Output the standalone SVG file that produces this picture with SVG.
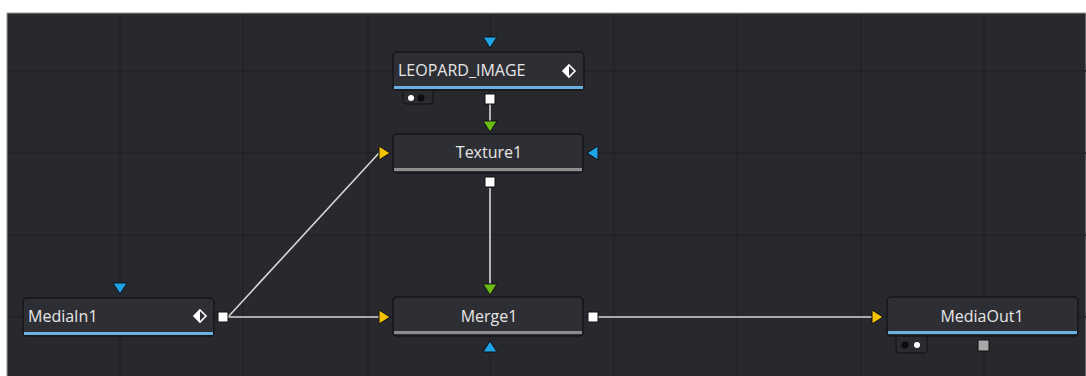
<svg xmlns="http://www.w3.org/2000/svg" width="1086" height="376" viewBox="0 0 1086 376">
<defs>
<style>
.node{fill:#2e2f35;stroke:#15161a;stroke-width:1.5}
.lbl{font-family:"Open Sans","Liberation Sans",sans-serif;font-size:16px;fill:#e6e6e6}
.grid{stroke:#222328;stroke-width:1.5}
.wire{stroke:#d8d8d8;stroke-width:1.6;fill:none}
.out{fill:#ffffff;stroke:#111;stroke-width:1}
.blue{fill:#1fa4e6;stroke:#101014;stroke-width:1}
.yel{fill:#f2c200;stroke:#101014;stroke-width:1}
.grn{fill:#6cbc12;stroke:#101014;stroke-width:1}
.bbar{fill:#6ab0e0}
.gbar{fill:#8e8e8e}
.tab{fill:#2a2b30;stroke:#111;stroke-width:1}
</style>
<g id="diamond">
<polygon points="0,-6 6,0 0,6 -6,0" fill="none" stroke="#fff" stroke-width="1.6"/>
<polygon points="0,-6 0,6 -6,0" fill="#fff"/>
</g>
</defs>
<rect x="0" y="0" width="1086" height="376" fill="#ffffff"/>
<rect x="7" y="13" width="1079" height="364" fill="#28292e" stroke="#9a9a9a" stroke-width="1"/>
<g id="grid">
<line class="grid" x1="120" y1="14" x2="120" y2="376"/>
<line class="grid" x1="243" y1="14" x2="243" y2="376"/>
<line class="grid" x1="368" y1="14" x2="368" y2="376"/>
<line class="grid" x1="490" y1="14" x2="490" y2="376"/>
<line class="grid" x1="614" y1="14" x2="614" y2="376"/>
<line class="grid" x1="737" y1="14" x2="737" y2="376"/>
<line class="grid" x1="861" y1="14" x2="861" y2="376"/>
<line class="grid" x1="984" y1="14" x2="984" y2="376"/>
<line class="grid" x1="8" y1="71" x2="1086" y2="71"/>
<line class="grid" x1="8" y1="153" x2="1086" y2="153"/>
<line class="grid" x1="8" y1="235" x2="1086" y2="235"/>
<line class="grid" x1="8" y1="317" x2="1086" y2="317"/>
</g>
<g id="connectors">
<line class="wire" x1="490" y1="104" x2="490" y2="121"/>
<line class="wire" x1="228" y1="317" x2="379" y2="153"/>
<line class="wire" x1="228" y1="317" x2="379" y2="317"/>
<line class="wire" x1="490" y1="188" x2="490" y2="284"/>
<line class="wire" x1="598" y1="317" x2="872" y2="317"/>
</g>
<g id="LEOPARD_IMAGE">
<rect class="tab" x="403" y="86" width="30" height="18" rx="3"/>
<circle cx="411" cy="98" r="3" fill="#fff"/>
<circle cx="421" cy="98" r="3.5" fill="#0c0c0e"/>
<rect class="node" x="393" y="52" width="191" height="38" rx="4"/>
<rect class="bbar" x="394" y="86" width="189" height="3"/>
<text class="lbl" x="398" y="76">LEOPARD_IMAGE</text>
<use href="#diamond" x="569" y="71"/>
<polygon class="blue" points="483,37 497,37 490,48"/>
<rect class="out" x="485" y="94" width="10" height="10"/>
</g>
<g id="Texture1">
<rect class="node" x="393" y="134" width="190" height="39" rx="4"/>
<rect class="gbar" x="394" y="168" width="188" height="3"/>
<text class="lbl" x="489" y="158" text-anchor="middle">Texture1</text>
<polygon class="grn" points="483,121 497,121 490,132"/>
<polygon class="yel" points="379,146 379,160 390,153"/>
<polygon class="blue" points="598,146 598,160 587,153"/>
<rect class="out" x="485" y="177" width="10" height="10"/>
</g>
<g id="MediaIn1">
<rect class="node" x="23" y="298" width="191" height="38" rx="4"/>
<rect class="bbar" x="24" y="332" width="189" height="3"/>
<text class="lbl" x="28" y="322">MediaIn1</text>
<use href="#diamond" x="200" y="316"/>
<polygon class="blue" points="113,283 127,283 120,294"/>
<rect class="out" x="218" y="312" width="10" height="10"/>
</g>
<g id="Merge1">
<rect class="node" x="393" y="297" width="190" height="39" rx="4"/>
<rect class="gbar" x="394" y="331" width="188" height="3"/>
<text class="lbl" x="489" y="322" text-anchor="middle">Merge1</text>
<polygon class="grn" points="483,284 497,284 490,295"/>
<polygon class="yel" points="379,310 379,324 390,317"/>
<polygon class="blue" points="483,352 497,352 490,341"/>
<rect class="out" x="588" y="312" width="10" height="10"/>
</g>
<g id="MediaOut1">
<rect class="tab" x="896" y="332" width="31" height="21" rx="3"/>
<circle cx="905" cy="345" r="3.5" fill="#0c0c0e"/>
<circle cx="917" cy="345" r="3" fill="#fff"/>
<rect class="node" x="887" y="297" width="191" height="39" rx="4"/>
<rect class="bbar" x="888" y="331" width="189" height="3"/>
<text class="lbl" x="982" y="322" text-anchor="middle">MediaOut1</text>
<polygon class="yel" points="872,310 872,324 883,317"/>
<rect x="978" y="340" width="11" height="11" fill="#a8a8a8" stroke="#111" stroke-width="1"/>
</g>
</svg>
